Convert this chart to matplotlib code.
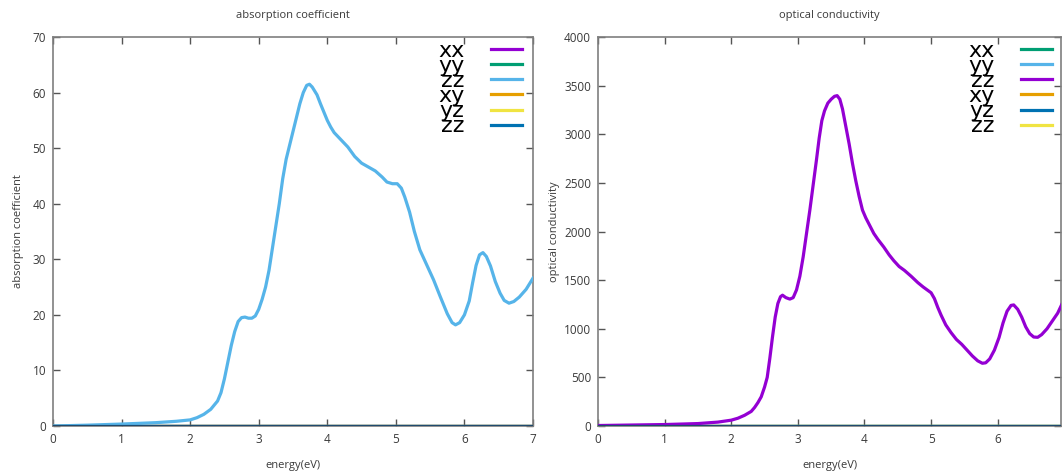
import matplotlib
matplotlib.use("Agg")
import matplotlib.pyplot as plt
import numpy as np

plt.rcParams['font.family'] = ['Open Sans', 'DejaVu Sans']

# ---------------- data ----------------
energy_abs = [0.0, 0.5, 1.0, 1.5, 1.8, 2.0, 2.1, 2.2, 2.3, 2.4, 2.45, 2.5, 2.55, 2.6, 2.65,
              2.7, 2.75, 2.8, 2.85, 2.9, 2.95, 3.0, 3.05, 3.1, 3.15, 3.2, 3.25, 3.3, 3.35,
              3.4, 3.45, 3.5, 3.55, 3.6, 3.65, 3.7, 3.74, 3.78, 3.85, 3.9, 3.95, 4.0, 4.05,
              4.1, 4.2, 4.3, 4.4, 4.5, 4.6, 4.7, 4.8, 4.87, 4.95, 5.02, 5.08, 5.13, 5.2,
              5.27, 5.35, 5.45, 5.55, 5.65, 5.75, 5.82, 5.87, 5.93, 6.0, 6.07, 6.12, 6.17,
              6.22, 6.27, 6.32, 6.38, 6.45, 6.52, 6.58, 6.65, 6.72, 6.8, 6.9, 7.0]
absorption_zz = [0.0, 0.15, 0.35, 0.6, 0.85, 1.1, 1.5, 2.1, 3.0, 4.5, 6.0, 8.5, 11.5, 14.5, 17.0,
                 18.8, 19.5, 19.6, 19.4, 19.4, 19.8, 21.0, 22.8, 25.0, 28.0, 32.0, 36.0, 40.0, 44.5,
                 48.0, 50.5, 53.0, 55.5, 58.0, 60.0, 61.3, 61.5, 61.0, 59.6, 58.0, 56.5, 55.0, 53.8,
                 52.8, 51.5, 50.2, 48.5, 47.3, 46.6, 45.9, 44.8, 43.9, 43.6, 43.6, 42.8, 41.2, 38.5,
                 35.0, 31.7, 29.0, 26.3, 23.2, 20.2, 18.6, 18.2, 18.6, 20.0, 22.5, 25.8, 28.9,
                 30.8, 31.2, 30.5, 28.8, 26.0, 23.9, 22.6, 22.1, 22.4, 23.2, 24.6, 26.6]

energy_cond = [0.0, 0.5, 1.0, 1.5, 1.8, 2.0, 2.1, 2.2, 2.3, 2.35, 2.4, 2.45, 2.5, 2.54, 2.58,
               2.62, 2.66, 2.7, 2.74, 2.77, 2.82, 2.88, 2.93, 2.98, 3.03, 3.08, 3.13, 3.18,
               3.23, 3.28, 3.32, 3.36, 3.4, 3.45, 3.5, 3.55, 3.59, 3.63, 3.67, 3.72, 3.77,
               3.82, 3.87, 3.92, 3.97, 4.02, 4.08, 4.14, 4.2, 4.29, 4.37, 4.44, 4.52, 4.6,
               4.7, 4.8, 4.88, 4.95, 5.0, 5.05, 5.1, 5.15, 5.22, 5.3, 5.38, 5.46, 5.54, 5.62,
               5.7, 5.77, 5.82, 5.88, 5.95, 6.02, 6.08, 6.14, 6.2, 6.24, 6.3, 6.36, 6.42,
               6.48, 6.54, 6.6, 6.66, 6.74, 6.82, 6.9, 6.97, 7.0]
conductivity_zz = [5, 10, 15, 25, 40, 60, 80, 110, 150, 190, 240, 300, 400, 500, 700,
                   920, 1120, 1260, 1330, 1345, 1320, 1305, 1320, 1400, 1540, 1740, 1980, 2220,
                   2480, 2740, 2960, 3140, 3240, 3320, 3360, 3390, 3397, 3360, 3260, 3080, 2900,
                   2700, 2520, 2360, 2220, 2140, 2060, 1980, 1920, 1840, 1760, 1700, 1640, 1600,
                   1540, 1475, 1430, 1395, 1370, 1310, 1220, 1140, 1040, 960, 890, 840, 780, 720,
                   670, 645, 650, 690, 780, 910, 1060, 1180, 1240, 1245, 1200, 1120, 1020,
                   950, 915, 912, 940, 1000, 1080, 1160, 1262, 1300]

# near-zero components (all lie on the zero line)
energy_zero = [0.0, 7.0]
component_zero = [0.0, 0.0]

labels = ['xx', 'yy', 'zz', 'xy', 'yz', 'zz']

PURPLE = '#9400d3'
GREEN = '#009e73'
LBLUE = '#56b4e9'
ORANGE = '#e69f00'
YELLOW = '#f0e442'
BLUE = '#0072b2'

# ---------------- figure ----------------
W, H = 1062, 476
fig = plt.figure(figsize=(W / 100, H / 100), dpi=100)

def fx(px):
    return px / W

def fy(py):
    return 1 - py / H

axL = fig.add_axes([fx(53), fy(426), fx(533) - fx(53), fy(37) - fy(426)])
axR = fig.add_axes([fx(598), fy(426), fx(1061) - fx(598), fy(37) - fy(426)])

TXT = '#3a3a3a'
SPINE = '#7f7f7f'

def style(ax):
    for s in ax.spines.values():
        s.set_color(SPINE)
        s.set_linewidth(1.2)
    ax.tick_params(direction='in', length=5, width=1.0, color='#555555',
                   top=True, right=True, labelsize=8.5, labelcolor=TXT, pad=5)

def add_legend(ax, handles, xanchor):
    leg = ax.legend(handles=handles, loc='upper right', bbox_to_anchor=(xanchor, 0.99),
                    frameon=False, markerfirst=False, labelspacing=-0.22,
                    handlelength=1.4, handletextpad=1.2, borderaxespad=0.0, borderpad=0.0,
                    prop={'family': ['DejaVu Sans'], 'size': 16})
    for t in leg.get_texts():
        t.set_color('black')
    return leg

# Left: absorption coefficient
colorsL = [PURPLE, GREEN, LBLUE, ORANGE, YELLOW, BLUE]
seriesL = [component_zero, component_zero, None, component_zero, component_zero, component_zero]
handlesL = []
for lab, col, ser in zip(labels, colorsL, seriesL):
    if ser is None:
        h, = axL.plot(energy_abs, absorption_zz, color=col, lw=2.3, label=lab, zorder=3)
    else:
        h, = axL.plot(energy_zero, ser, color=col, lw=2.3, label=lab, zorder=2)
    handlesL.append(h)
axL.plot(energy_zero, component_zero, color='#1f4a6e', lw=2.3, zorder=4)
axL.set_xlim(0, 7)
axL.set_ylim(0, 70)
axL.set_xticks(range(0, 8))
axL.set_yticks(range(0, 71, 10))
style(axL)
axL.set_title('absorption coefficient', fontsize=8, color=TXT, pad=14)
axL.set_xlabel('energy(eV)', fontsize=8, color=TXT, labelpad=10)
axL.set_ylabel('absorption coefficient', fontsize=8, color=TXT, labelpad=6)
add_legend(axL, handlesL, 0.977)

# Right: optical conductivity
colorsR = [GREEN, LBLUE, PURPLE, ORANGE, BLUE, YELLOW]
seriesR = [component_zero, component_zero, None, component_zero, component_zero, component_zero]
handlesR = []
for lab, col, ser in zip(labels, colorsR, seriesR):
    if ser is None:
        h, = axR.plot(energy_cond, conductivity_zz, color=col, lw=2.3, label=lab, zorder=3)
    else:
        h, = axR.plot(energy_zero, ser, color=col, lw=2.3, label=lab, zorder=2)
    handlesR.append(h)
axR.plot(energy_zero, component_zero, color='#1f4a6e', lw=2.3, zorder=4)
axR.set_xlim(0, 6.95)
axR.set_ylim(0, 4000)
axR.set_xticks(range(0, 7))
axR.set_yticks(range(0, 4001, 500))
style(axR)
axR.set_title('optical conductivity', fontsize=8, color=TXT, pad=14)
axR.set_xlabel('energy(eV)', fontsize=8, color=TXT, labelpad=10)
axR.set_ylabel('optical conductivity', fontsize=8, color=TXT, labelpad=3)
add_legend(axR, handlesR, 0.9806)

fig.savefig('out.png', dpi=100)
